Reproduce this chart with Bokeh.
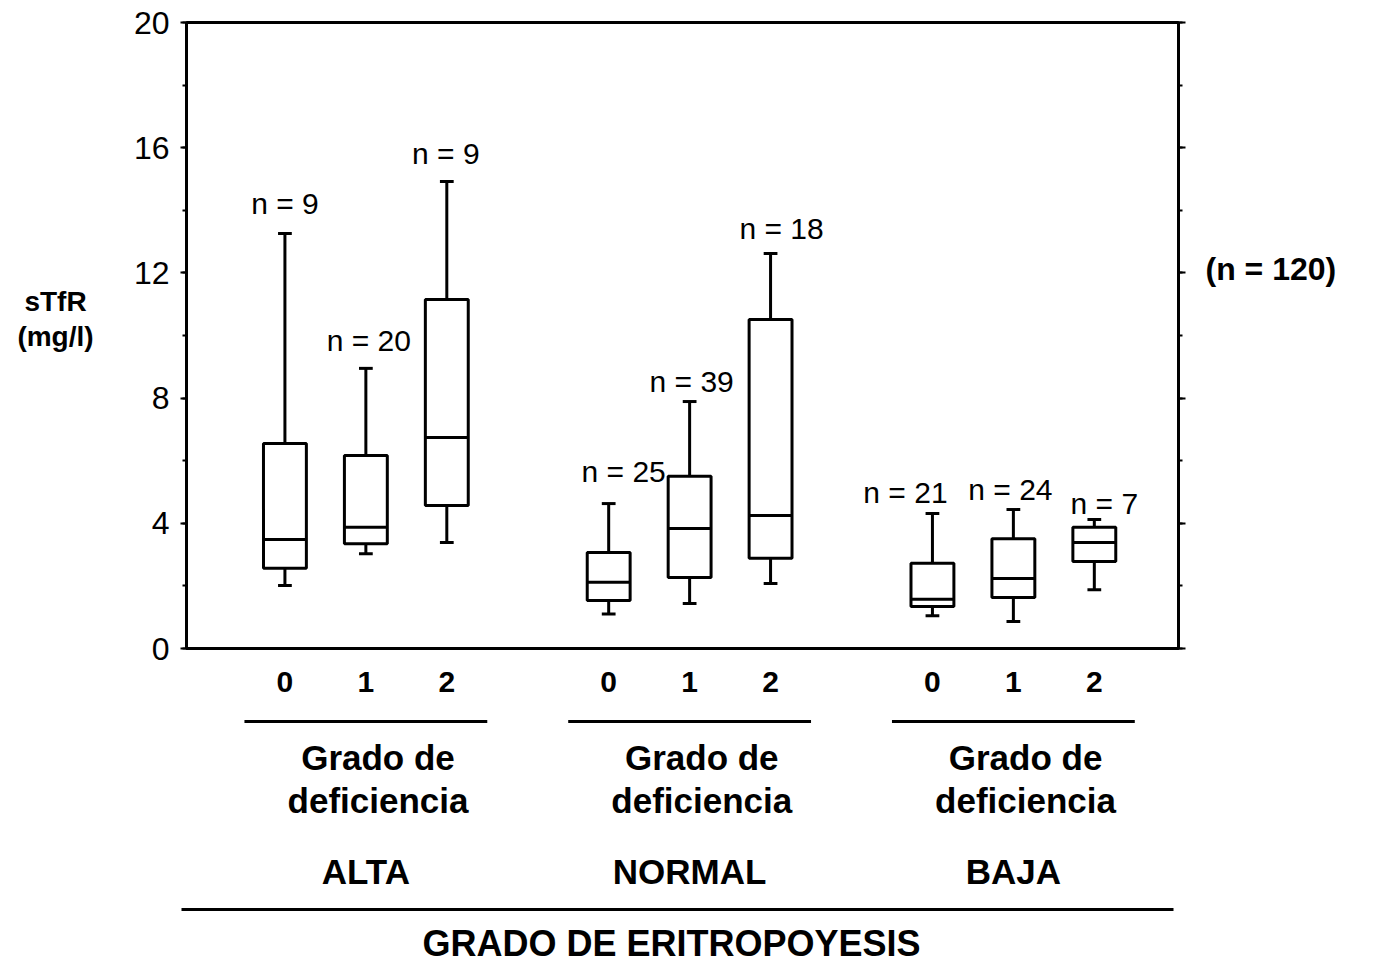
from bokeh.plotting import figure
from bokeh.layouts import row, column
from bokeh.models import (ColumnDataSource, Range1d, LinearAxis, SingleIntervalTicker,
                          FixedTicker)
from bokeh.core.properties import value
from bokeh.embed import file_html
from bokeh.resources import INLINE

# ---------------- data ----------------
groups = ["ALTA", "NORMAL", "BAJA"]
grades = ["0", "1", "2"]
n_counts = [9, 20, 9, 25, 39, 18, 21, 24, 7]
whisker_low = [2.01, 3.03, 3.39, 1.10, 1.44, 2.08, 1.05, 0.86, 1.88]
q1 = [2.56, 3.35, 4.57, 1.53, 2.27, 2.88, 1.34, 1.63, 2.78]
median = [3.48, 3.87, 6.74, 2.12, 3.83, 4.25, 1.57, 2.24, 3.39]
q3 = [6.55, 6.17, 11.15, 3.07, 5.50, 10.51, 2.72, 3.51, 3.87]
whisker_high = [13.26, 8.95, 14.92, 4.63, 7.89, 12.62, 4.31, 4.44, 4.12]
total_n = 120
y_label = ["sTfR", "(mg/l)"]
sub_axis_title = ["Grado de", "deficiencia"]
x_axis_title = "GRADO DE ERITROPOYESIS"

# ---------------- layout / style ----------------
FONT = "Liberation Sans"
W, H = 1373, 968
FRAME_L, FRAME_R, FRAME_T, FRAME_B = 186, 1178, 22, 648
ROW_H = 712
LEFT_W = 110
MAIN_R = 1190
X_LO, X_HI = -1.216, 11.04
Y_LO, Y_HI = 0, 20
GROUP_STEP = 4
BOX_W = 0.53
CAP_W = 0.17
LW = 3
kx = (FRAME_R - FRAME_L) / (X_HI - X_LO)
ky = (FRAME_B - FRAME_T) / (Y_HI - Y_LO)


def u_at(px):
    return X_LO + (px - FRAME_L) / kx


def v_at(py):
    return Y_LO + (FRAME_B - py) / ky


# label nudges in screen pixels (dx right, dy up)
label_dx = [0, 3, -1, 15, 2, 11, -27, -3, 10]
label_dy = [30, 28, 28, 32, 20, 25, 21, 20, 16]

xs = []
for gi, g in enumerate(groups):
    for si, s in enumerate(grades):
        xs.append(gi * GROUP_STEP + si)
n_text = ["n = %d" % n for n in n_counts]

src = ColumnDataSource(dict(
    x=xs, low=whisker_low, q1=q1, med=median, q3=q3, high=whisker_high,
    box_l=[x - BOX_W / 2 for x in xs], box_r=[x + BOX_W / 2 for x in xs],
    cap_l=[x - CAP_W / 2 for x in xs], cap_r=[x + CAP_W / 2 for x in xs],
    ntext=n_text, ndx=label_dx, ndy=[-d for d in label_dy],
))


def blank(fig):
    fig.title.visible = False
    fig.xgrid.visible = False
    fig.ygrid.visible = False
    fig.outline_line_color = None
    fig.background_fill_color = "white"
    fig.border_fill_color = "white"
    return fig


# ---------------- main plot ----------------
p = figure(width=MAIN_R - LEFT_W, height=ROW_H,
           x_range=Range1d(X_LO, X_HI), y_range=Range1d(Y_LO, Y_HI),
           output_backend="svg", toolbar_location=None, min_border=0,
           min_border_left=FRAME_L - LEFT_W, min_border_right=MAIN_R - FRAME_R,
           min_border_top=FRAME_T, min_border_bottom=ROW_H - FRAME_B)
blank(p)
p.outline_line_color = "black"
p.outline_line_width = LW

ya = p.yaxis[0]
ya.ticker = SingleIntervalTicker(interval=4, num_minor_ticks=2)
ya.axis_line_width = LW
ya.major_tick_in = 0
ya.major_tick_out = 6
ya.minor_tick_in = 0
ya.minor_tick_out = 4
ya.major_tick_line_width = 2
ya.minor_tick_line_width = 2
ya.major_label_standoff = 11
ya.major_label_text_font = FONT
ya.major_label_text_font_size = "32px"
ya.major_label_text_color = "black"

ra = LinearAxis(ticker=SingleIntervalTicker(interval=4, num_minor_ticks=2),
                axis_line_width=LW, major_tick_in=0, major_tick_out=7,
                minor_tick_in=0, minor_tick_out=4, major_tick_line_width=2,
                minor_tick_line_width=2, major_label_text_color=None,
                major_label_text_font_size="8px", major_label_standoff=0)
p.add_layout(ra, "right")

xa = p.xaxis[0]
xa.ticker = FixedTicker(ticks=xs)
overrides = {}
for gi in range(len(groups)):
    for si, s in enumerate(grades):
        overrides[gi * GROUP_STEP + si] = s
xa.major_label_overrides = overrides
xa.axis_line_width = LW
xa.major_tick_line_color = None
xa.minor_tick_line_color = None
xa.major_label_standoff = 17
xa.major_label_text_font = FONT
xa.major_label_text_font_size = "30px"
xa.major_label_text_font_style = "bold"
xa.major_label_text_color = "black"

p.segment(x0="x", y0="q3", x1="x", y1="high", line_color="black", line_width=LW, source=src)
p.segment(x0="x", y0="low", x1="x", y1="q1", line_color="black", line_width=LW, source=src)
p.segment(x0="cap_l", y0="high", x1="cap_r", y1="high", line_color="black", line_width=LW, source=src)
p.segment(x0="cap_l", y0="low", x1="cap_r", y1="low", line_color="black", line_width=LW, source=src)
p.vbar(x="x", width=BOX_W, bottom="q1", top="q3", fill_color="white",
       line_color="black", line_width=LW, source=src)
p.segment(x0="box_l", y0="med", x1="box_r", y1="med", line_color="black", line_width=LW, source=src)

p.text(x="x", y="high", text="ntext", x_offset="ndx", y_offset="ndy",
       text_align="center", text_baseline="middle", text_font=value(FONT),
       text_font_size="30px", text_color="black", source=src)

# ---------------- left panel: y label ----------------
left = figure(width=LEFT_W, height=ROW_H, x_range=Range1d(u_at(0), u_at(LEFT_W)),
              y_range=p.y_range, output_backend="svg", toolbar_location=None,
              x_axis_location=None, y_axis_location=None, min_border=0,
              min_border_top=FRAME_T, min_border_bottom=ROW_H - FRAME_B)
blank(left)
left.text(x=[u_at(55), u_at(55)], y=[v_at(301), v_at(336)], text=y_label,
          text_align="center", text_baseline="middle", text_font=value(FONT),
          text_font_size="28px", text_font_style="bold", text_color="black")

# ---------------- right panel: total n ----------------
right = figure(width=W - MAIN_R, height=ROW_H, x_range=Range1d(u_at(MAIN_R), u_at(W)),
               y_range=p.y_range, output_backend="svg", toolbar_location=None,
               x_axis_location=None, y_axis_location=None, min_border=0,
               min_border_top=FRAME_T, min_border_bottom=ROW_H - FRAME_B)
blank(right)
right.text(x=[u_at(1205)], y=[v_at(268)], text=["(n = %d)" % total_n],
           text_align="left", text_baseline="middle", text_font=value(FONT),
           text_font_size="32px", text_font_style="bold", text_color="black")

# ---------------- bottom panel: group titles ----------------
bottom = figure(width=W, height=H - ROW_H, x_range=Range1d(u_at(0), u_at(W)),
                y_range=Range1d(v_at(H), v_at(ROW_H)), output_backend="svg",
                toolbar_location=None, x_axis_location=None, y_axis_location=None,
                min_border=0)
blank(bottom)

centers = [gi * GROUP_STEP + 1 for gi in range(len(groups))]
bottom.segment(x0=[c - 1.5 for c in centers], x1=[c + 1.5 for c in centers],
               y0=[v_at(721)] * 3, y1=[v_at(721)] * 3, line_color="black", line_width=LW)
bottom.text(x=[c + 0.15 for c in centers], y=[v_at(757)] * 3, text=[sub_axis_title[0]] * 3,
            text_align="center", text_baseline="middle", text_font=value(FONT),
            text_font_size="35px", text_font_style="bold", text_color="black")
bottom.text(x=[c + 0.15 for c in centers], y=[v_at(800)] * 3, text=[sub_axis_title[1]] * 3,
            text_align="center", text_baseline="middle", text_font=value(FONT),
            text_font_size="35px", text_font_style="bold", text_color="black")
bottom.text(x=centers, y=[v_at(871)] * 3, text=groups,
            text_align="center", text_baseline="middle", text_font=value(FONT),
            text_font_size="35px", text_font_style="bold", text_color="black")
bottom.segment(x0=[u_at(181)], x1=[u_at(1173)], y0=[v_at(909)], y1=[v_at(909)],
               line_color="black", line_width=LW)
bottom.text(x=[u_at(671)], y=[v_at(943)], text=[x_axis_title],
            text_align="center", text_baseline="middle", text_font=value(FONT),
            text_font_size="36px", text_font_style="bold", text_color="black")

layout = column(row(left, p, right), bottom)
open("out.html", "w").write(file_html(layout, INLINE))
